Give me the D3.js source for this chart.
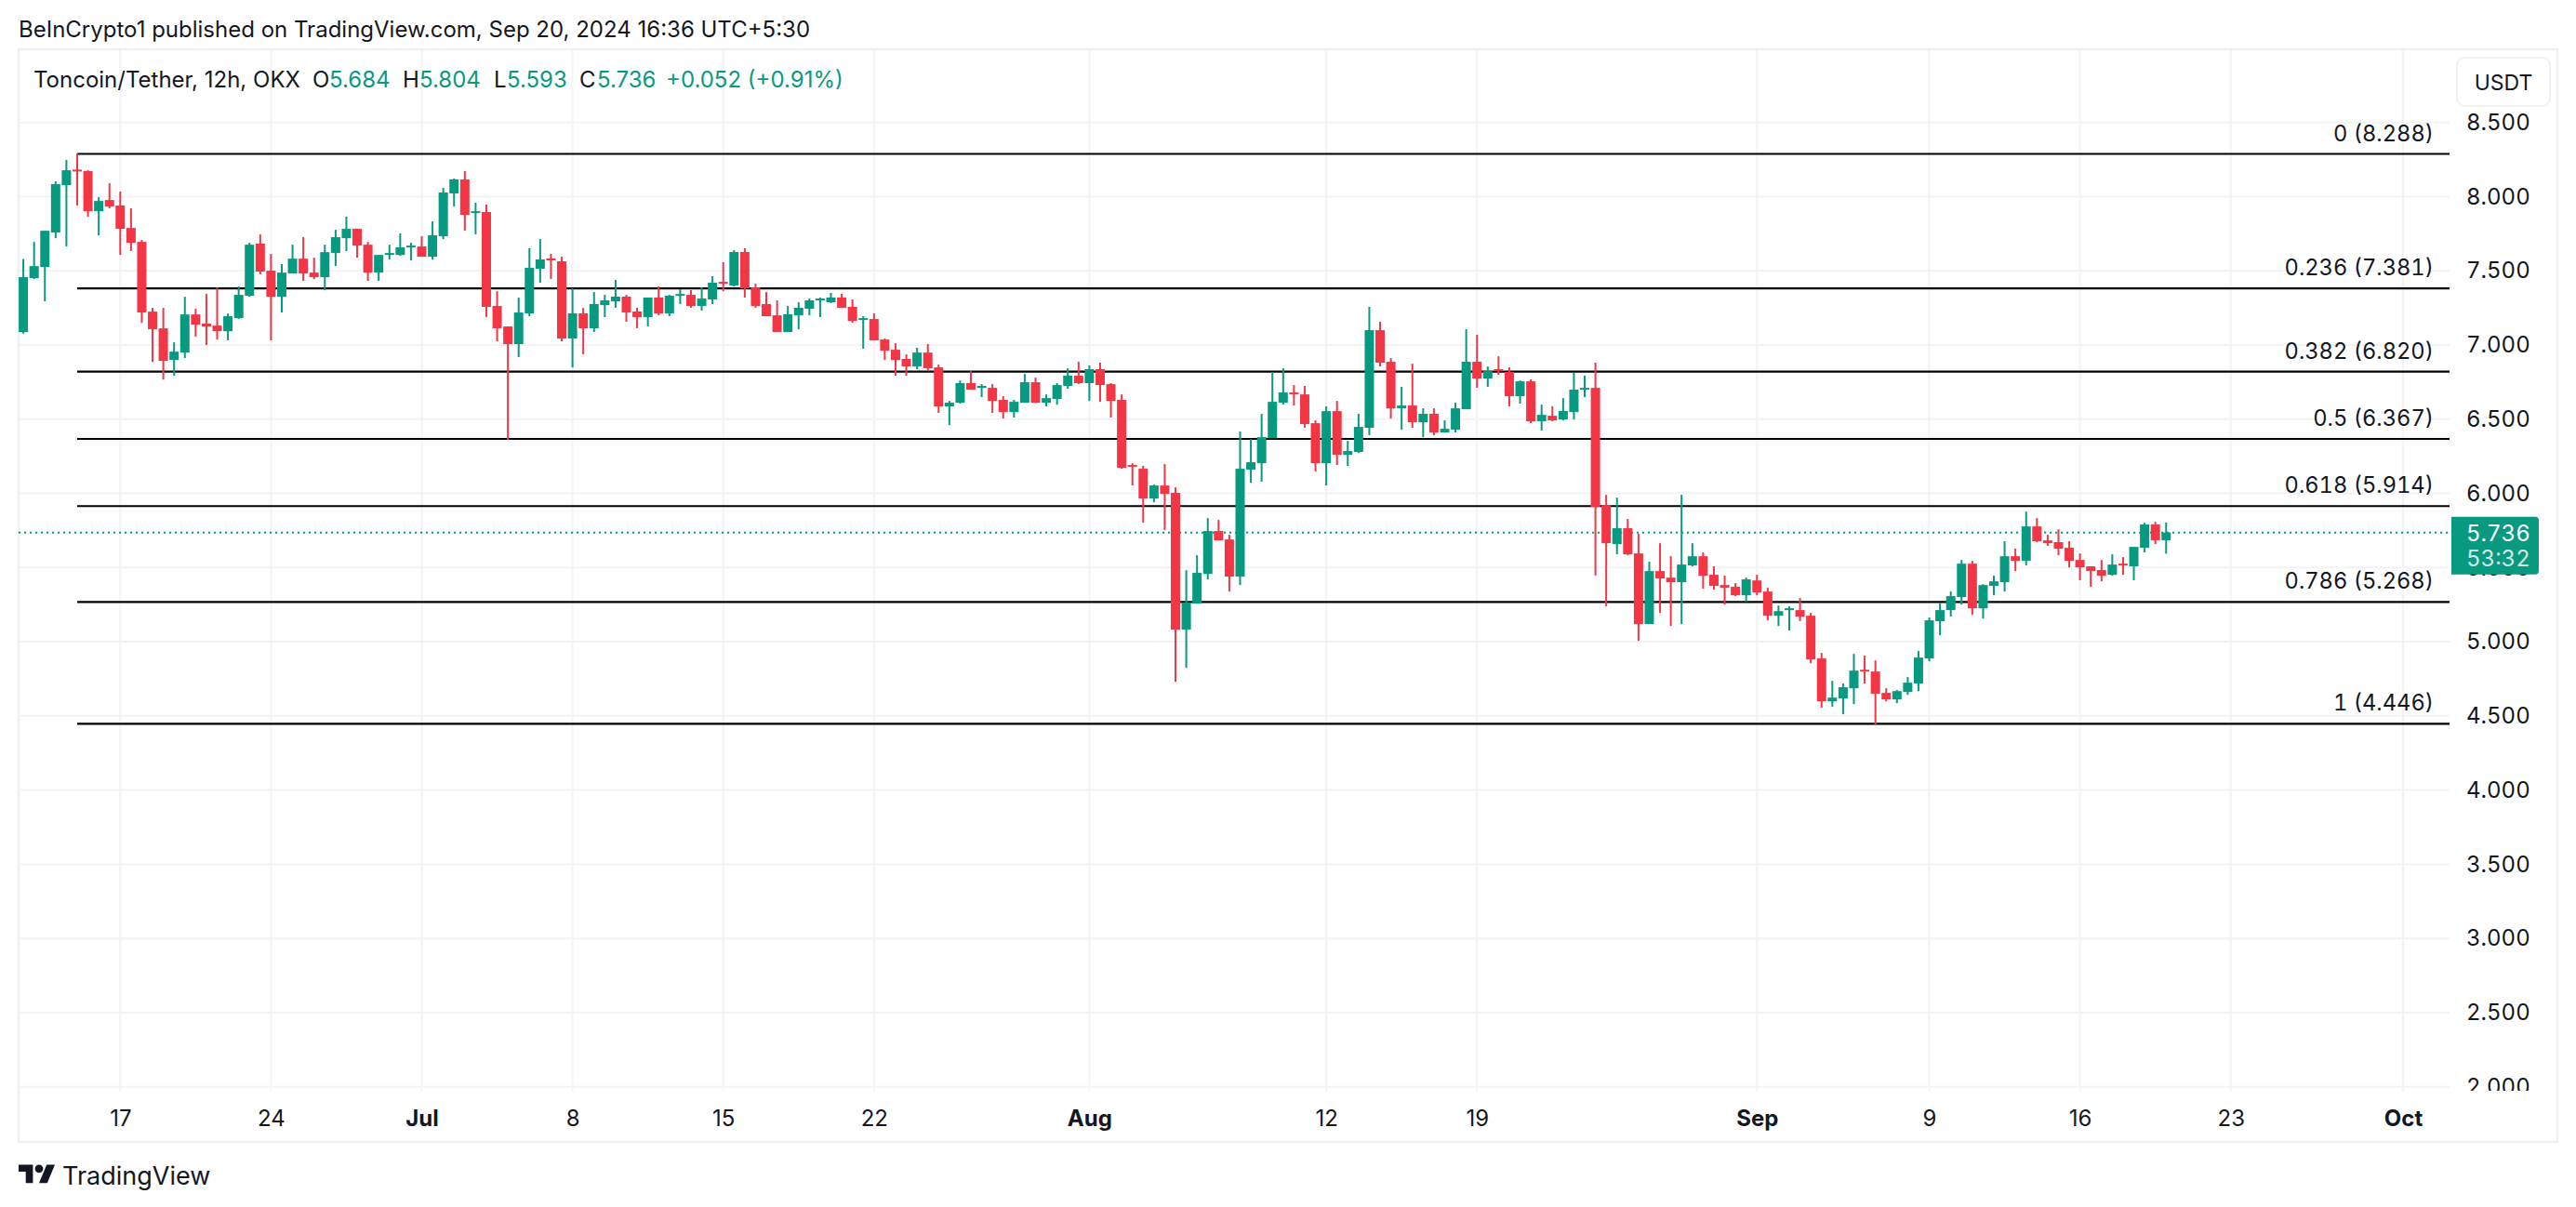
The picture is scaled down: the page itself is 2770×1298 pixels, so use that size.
<!DOCTYPE html>
<html>
<head>
<meta charset="utf-8">
<script src="https://cdn.jsdelivr.net/npm/d3@7"></script>
<style>
  body { margin: 0; background: #fff; }
  svg { display: block; }
  text { font-family: Inter, "Noto Sans", sans-serif; fill: #131722; }
  .tnum, .tnum text { font-variant-numeric: tabular-nums; font-feature-settings: "tnum"; }
</style>
</head>
<body>
<svg id="chart" width="2770" height="1298"></svg>
<script>
// 12h candles
const opens = [
  7.087,7.451,7.526,7.758,8.078,8.182,8.172,7.902,7.977,7.940,
  7.789,7.695,7.225,7.112,6.899,6.949,7.206,7.144,7.131,7.093,
  7.181,7.332,7.683,7.501,7.325,7.482,7.582,7.488,7.457,7.620,
  7.720,7.783,7.676,7.488,7.607,7.607,7.658,7.664,7.595,7.733,
  8.022,8.116,7.890,7.896,7.263,7.125,7.006,7.213,7.514,7.583,
  7.564,7.044,7.213,7.113,7.269,7.294,7.326,7.226,7.188,7.320,
  7.213,7.332,7.338,7.263,7.307,7.426,7.401,7.627,7.388,7.276,
  7.200,7.088,7.200,7.244,7.301,7.288,7.320,7.257,7.169,7.175,
  7.037,6.968,6.906,6.855,6.949,6.849,6.586,6.611,6.743,6.711,
  6.711,6.630,6.548,6.611,6.749,6.611,6.636,6.724,6.793,6.743,
  6.837,6.736,6.630,6.191,6.166,5.965,6.053,6.003,5.081,5.257,
  5.457,5.746,5.689,5.439,6.160,6.203,6.373,6.611,6.680,6.667,
  6.473,6.203,6.554,6.260,6.279,6.442,7.100,6.887,6.573,6.592,
  6.479,6.536,6.410,6.429,6.567,6.887,6.774,6.837,6.818,6.655,
  6.755,6.486,6.523,6.498,6.548,6.699,6.711,5.921,5.658,5.765,
  5.595,5.119,5.476,5.432,5.401,5.514,5.576,5.451,5.382,5.370,
  5.313,5.413,5.338,5.175,5.213,5.213,5.175,4.887,4.598,4.617,
  4.686,4.811,4.799,4.655,4.611,4.661,4.718,4.887,5.138,5.213,
  5.301,5.526,5.225,5.376,5.401,5.576,5.545,5.777,5.683,5.671,
  5.633,5.551,5.508,5.483,5.451,5.526,5.508,5.633,5.790,5.684
];
const highs = [
  7.580,7.695,7.770,8.103,8.247,8.291,8.178,7.996,8.090,8.034,
  7.921,7.708,7.250,7.250,7.018,7.325,7.244,7.344,7.388,7.212,
  7.394,7.689,7.745,7.614,7.545,7.676,7.727,7.589,7.676,7.777,
  7.865,7.783,7.695,7.607,7.676,7.752,7.689,7.733,7.833,8.059,
  8.122,8.172,7.959,7.946,7.363,7.125,7.319,7.652,7.714,7.614,
  7.595,7.382,7.250,7.357,7.338,7.439,7.338,7.251,7.320,7.395,
  7.338,7.376,7.370,7.388,7.464,7.558,7.639,7.652,7.413,7.357,
  7.301,7.263,7.288,7.313,7.320,7.351,7.345,7.307,7.194,7.213,
  7.044,7.012,6.937,6.981,7.006,6.868,6.623,6.761,6.824,6.736,
  6.736,6.655,6.630,6.805,6.780,6.667,6.743,6.843,6.887,6.862,
  6.881,6.743,6.667,6.203,6.185,6.059,6.197,6.040,5.482,5.583,
  5.833,5.821,5.721,6.417,6.366,6.536,6.818,6.843,6.730,6.724,
  6.492,6.586,6.623,6.354,6.536,7.257,7.156,6.912,6.718,6.874,
  6.573,6.573,6.492,6.611,7.106,7.069,6.855,6.924,6.849,6.761,
  6.768,6.598,6.586,6.642,6.812,6.793,6.881,5.990,5.971,5.827,
  5.727,5.539,5.664,5.576,5.990,5.664,5.602,5.508,5.445,5.395,
  5.432,5.451,5.363,5.244,5.238,5.294,5.194,4.924,4.736,4.718,
  4.918,4.906,4.874,4.686,4.674,4.762,4.937,5.163,5.263,5.338,
  5.551,5.545,5.388,5.445,5.677,5.627,5.877,5.833,5.721,5.758,
  5.677,5.595,5.508,5.551,5.589,5.570,5.639,5.802,5.808,5.804
];
const lows = [
  7.077,7.444,7.294,7.720,7.664,7.940,7.865,7.739,7.921,7.607,
  7.633,7.150,6.886,6.767,6.792,6.912,7.056,7.000,7.037,7.031,
  7.175,7.325,7.476,7.031,7.219,7.482,7.432,7.444,7.369,7.532,
  7.633,7.589,7.432,7.432,7.576,7.601,7.570,7.595,7.576,7.714,
  7.933,7.771,7.746,7.188,7.025,6.360,6.918,7.194,7.420,7.445,
  7.025,6.849,6.937,7.088,7.188,7.251,7.156,7.113,7.125,7.200,
  7.194,7.276,7.251,7.232,7.276,7.363,7.395,7.320,7.251,7.194,
  7.088,7.088,7.106,7.200,7.188,7.282,7.251,7.150,6.975,7.031,
  6.899,6.793,6.793,6.837,6.824,6.542,6.460,6.605,6.699,6.649,
  6.542,6.504,6.511,6.611,6.611,6.586,6.598,6.705,6.736,6.623,
  6.617,6.511,6.166,6.053,5.802,5.940,5.752,4.730,4.824,5.257,
  5.420,5.683,5.338,5.382,6.072,6.078,6.373,6.598,6.592,6.442,
  6.147,6.053,6.191,6.185,6.272,6.392,6.856,6.504,6.429,6.442,
  6.379,6.392,6.410,6.410,6.567,6.711,6.718,6.799,6.586,6.605,
  6.473,6.423,6.486,6.492,6.498,6.649,5.445,5.238,5.589,5.583,
  5.006,5.119,5.194,5.106,5.119,5.507,5.357,5.351,5.250,5.307,
  5.269,5.313,5.144,5.106,5.075,5.138,4.855,4.555,4.561,4.511,
  4.580,4.718,4.442,4.598,4.586,4.642,4.667,4.868,5.044,5.169,
  5.250,5.181,5.156,5.313,5.338,5.476,5.514,5.671,5.646,5.583,
  5.501,5.414,5.370,5.407,5.445,5.451,5.414,5.602,5.658,5.593
];
const closes = [
  7.457,7.532,7.770,8.084,8.178,8.176,7.902,7.971,7.933,7.783,
  7.689,7.219,7.106,6.893,6.955,7.206,7.137,7.125,7.093,7.194,
  7.338,7.676,7.495,7.325,7.488,7.582,7.482,7.457,7.626,7.727,
  7.783,7.670,7.488,7.607,7.620,7.658,7.670,7.595,7.739,8.028,
  8.116,7.877,7.902,7.257,7.113,7.006,7.219,7.520,7.577,7.570,
  7.044,7.213,7.113,7.276,7.301,7.326,7.219,7.188,7.320,7.213,
  7.332,7.344,7.263,7.313,7.420,7.414,7.627,7.382,7.263,7.194,
  7.088,7.207,7.251,7.301,7.313,7.320,7.251,7.163,7.181,7.031,
  6.962,6.899,6.855,6.949,6.843,6.586,6.611,6.743,6.699,6.724,
  6.623,6.548,6.617,6.749,6.611,6.642,6.730,6.793,6.743,6.837,
  6.730,6.623,6.172,6.178,5.965,6.053,5.997,5.081,5.263,5.464,
  5.746,5.683,5.439,6.166,6.210,6.379,6.617,6.680,6.667,6.467,
  6.203,6.554,6.260,6.285,6.448,7.100,6.881,6.573,6.592,6.479,
  6.536,6.410,6.435,6.573,6.887,6.774,6.824,6.824,6.655,6.755,
  6.486,6.529,6.492,6.555,6.699,6.711,5.909,5.664,5.765,5.589,
  5.119,5.476,5.426,5.401,5.520,5.576,5.445,5.376,5.363,5.313,
  5.420,5.332,5.175,5.206,5.225,5.169,4.881,4.598,4.623,4.693,
  4.805,4.799,4.649,4.611,4.667,4.724,4.893,5.144,5.213,5.307,
  5.526,5.225,5.382,5.407,5.576,5.545,5.777,5.677,5.664,5.627,
  5.545,5.501,5.476,5.445,5.520,5.514,5.639,5.790,5.684,5.736
];

// fib retracement levels
const fibLevels = ['0', '0.236', '0.382', '0.5', '0.618', '0.786', '1'];
const fibPrices = [8.288, 7.381, 6.820, 6.367, 5.914, 5.268, 4.446];
const fibStartBar = 5; // the high candle

// axis ticks
const priceTicks = [2, 2.5, 3, 3.5, 4, 4.5, 5, 5.5, 6, 6.5, 7, 7.5, 8, 8.5];
const timeTickBars = [9, 23, 37, 51, 65, 79, 99, 121, 135, 161, 177, 191, 205, 221];
const timeTickLabels = ['17', '24', 'Jul', '8', '15', '22', 'Aug', '12', '19', 'Sep', '9', '16', '23', 'Oct'];
const monthLabels = ['Jul', 'Aug', 'Sep', 'Oct'];

const lastPrice = 5.736;
const countdown = '53:32';
const green = '#089981', red = '#f23645', gridColor = '#f3f3f5';

// top is taken by window.top, so prefix these
const panelLeft = 20, panelRight = 2750, panelTop = 53, panelBottom = 1228, plotRight = 2634, plotBottom = 1170;

const x = d3.scaleLinear().domain([9, 221]).range([129.3, 2584]);
const y = d3.scaleLinear().domain([2, 8.5]).range([1168.7, 131.7]);

const svg = d3.select('#chart');

svg.append('defs').append('clipPath').attr('id', 'axis-clip')
  .append('rect').attr('x', plotRight).attr('y', panelTop).attr('width', panelRight - plotRight).attr('height', plotBottom + 3 - panelTop);
svg.select('defs').append('clipPath').attr('id', 'plot-clip')
  .append('rect').attr('x', panelLeft).attr('y', panelTop).attr('width', plotRight - panelLeft).attr('height', plotBottom - panelTop);

svg.append('text').attr('x', 20).attr('y', 40).attr('font-size', 24)
  .text('BeInCrypto1 published on TradingView.com, Sep 20, 2024 16:36 UTC+5:30');

// grid
svg.append('g').selectAll('line').data(priceTicks).join('line')
  .attr('x1', panelLeft).attr('x2', plotRight)
  .attr('y1', d => y(d)).attr('y2', d => y(d))
  .attr('stroke', gridColor).attr('stroke-width', 2);
svg.append('g').selectAll('line').data(timeTickBars).join('line')
  .attr('x1', d => x(d)).attr('x2', d => x(d))
  .attr('y1', panelTop).attr('y2', plotBottom + 3)
  .attr('stroke', gridColor).attr('stroke-width', 2);

// panel border
svg.append('rect').attr('x', panelLeft).attr('y', panelTop).attr('width', panelRight - panelLeft).attr('height', panelBottom - panelTop)
  .attr('fill', 'none').attr('stroke', '#f0f0f2').attr('stroke-width', 2.5);

// last price dotted line
svg.append('line').attr('x1', panelLeft).attr('x2', plotRight + 2)
  .attr('y1', y(lastPrice)).attr('y2', y(lastPrice))
  .attr('stroke', green).attr('stroke-width', 2).attr('stroke-dasharray', '2.2 3.8');

// fib lines + labels
svg.append('g').selectAll('line').data(fibPrices).join('line')
  .attr('x1', x(fibStartBar)).attr('x2', plotRight)
  .attr('y1', d => y(d)).attr('y2', d => y(d))
  .attr('stroke', '#000').attr('stroke-width', 2.2);
svg.append('g').attr('class', 'tnum').selectAll('text').data(fibPrices).join('text')
  .attr('x', 2617).attr('y', d => y(d) - 14)
  .attr('text-anchor', 'end').attr('font-size', 23.7)
  .text((d, i) => `${fibLevels[i]} (${d3.format('.3f')(d)})`);

// candles
const bars = d3.range(opens.length);
const candles = svg.append('g').attr('clip-path', 'url(#plot-clip)');
const barColor = i => closes[i] >= opens[i] ? green : red;

candles.selectAll('.wick').data(bars).join('line').attr('class', 'wick')
  .attr('x1', i => x(i)).attr('x2', i => x(i))
  .attr('y1', i => y(highs[i])).attr('y2', i => y(lows[i]))
  .attr('stroke', barColor).attr('stroke-width', 2);
candles.selectAll('.body').data(bars).join('rect').attr('class', 'body')
  .attr('x', i => x(i) - 5).attr('width', 10)
  .attr('y', i => y(Math.max(opens[i], closes[i])))
  .attr('height', i => Math.max(2, Math.abs(y(opens[i]) - y(closes[i]))))
  .attr('fill', barColor);

// price axis
const yAxis = svg.append('g').attr('clip-path', 'url(#axis-clip)').append('g')
  .attr('class', 'tnum')
  .attr('transform', `translate(2652,0)`)
  .call(d3.axisRight(y).tickValues(priceTicks).tickFormat(d3.format('.3f')).tickSize(0).tickPadding(0));
yAxis.select('.domain').remove();
yAxis.selectAll('text').attr('font-size', 24).attr('font-family', 'Inter').attr('fill', '#131722');

// time axis
const xAxis = svg.append('g').attr('transform', `translate(0,${plotBottom})`)
  .call(d3.axisBottom(x).tickValues(timeTickBars).tickFormat((d, i) => timeTickLabels[i]).tickSize(0).tickPadding(0));
xAxis.select('.domain').remove();
xAxis.selectAll('text')
  .attr('y', 0).attr('dy', 41)
  .attr('font-size', 24).attr('font-family', 'Inter').attr('fill', '#131722')
  .attr('font-weight', (d, i) => monthLabels.includes(timeTickLabels[i]) ? 700 : 400);

// current price tag
svg.append('path')
  .attr('d', `M2636,${y(lastPrice) - 17}H2726a4,4 0 0 1 4,4V${y(lastPrice) + 41}a4,4 0 0 1 -4,4H2636Z`)
  .attr('fill', green);
svg.append('text').attr('class', 'tnum').attr('x', 2652).attr('y', y(lastPrice) + 9).attr('font-size', 24)
  .style('fill', '#fff').text(d3.format('.3f')(lastPrice));
svg.append('text').attr('class', 'tnum').attr('x', 2652).attr('y', y(lastPrice) + 36).attr('font-size', 24)
  .style('fill', '#fff').style('opacity', 0.8).text(countdown);

// USDT button
svg.append('rect').attr('x', 2642).attr('y', 62).attr('width', 100).attr('height', 52).attr('rx', 8)
  .attr('fill', '#fff').attr('stroke', '#eeeeef').attr('stroke-width', 1.5);
svg.append('text').attr('x', 2692).attr('y', 96.5).attr('text-anchor', 'middle').attr('font-size', 23).text('USDT');

// ohlc legend
const last = opens.length - 1;
const legend = svg.append('g').attr('font-size', 24);
legend.append('text').attr('x', 36).attr('y', 94).text('Toncoin/Tether, 12h, OKX');
[['O', opens[last], 336, 354], ['H', highs[last], 433, 451], ['L', lows[last], 531, 545], ['C', closes[last], 623, 642]]
  .forEach(([k, v, kx, vx]) => {
    legend.append('text').attr('x', kx).attr('y', 94).text(k);
    legend.append('text').attr('x', vx).attr('y', 94).style('fill', green).text(d3.format('.3f')(v));
  });
legend.append('text').attr('x', 716).attr('y', 94).style('fill', green).text('+0.052 (+0.91%)');

// logo
const logo = svg.append('g').attr('transform', 'translate(20,1248) scale(1.1)').attr('fill', '#131722');
logo.append('path').attr('d', 'M14 22H7V11H0V4h14v18zM28 22h-8l7.5-18h8L28 22z');
logo.append('circle').attr('cx', 20).attr('cy', 8).attr('r', 4);
svg.append('text').attr('x', 67).attr('y', 1274).attr('font-size', 27).text('TradingView');
</script>
</body>
</html>
